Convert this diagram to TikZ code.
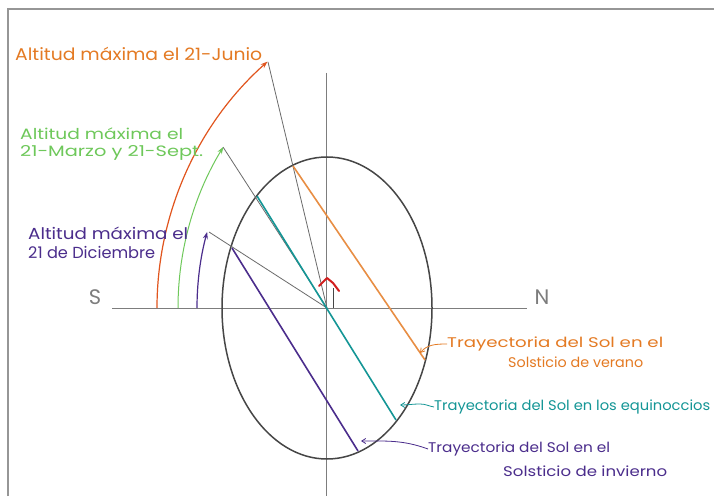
\documentclass[tikz,border=0pt]{standalone}
\usepackage{fontspec}
\setmainfont{Poppins}
\usetikzlibrary{arrows.meta}
\definecolor{orC}{RGB}{228,122,35}
\definecolor{orR}{RGB}{225,85,30}
\definecolor{grC}{RGB}{110,200,90}
\definecolor{tlC}{RGB}{20,150,150}
\definecolor{puC}{RGB}{75,45,140}
\definecolor{lnC}{RGB}{125,125,125}
\definecolor{elC}{RGB}{70,70,70}
\definecolor{rdC}{RGB}{210,30,30}
\definecolor{frC}{RGB}{150,150,150}
\newcommand{\fitw}[2]{\resizebox{#1}{\height}{#2}}
\tikzset{
  lbl/.style={anchor=west,inner sep=0pt},
  axis/.style={draw=lnC,line width=0.9pt},
  ray/.style={draw=elC!80,line width=0.8pt},
  traj/.style={line width=1.6pt},
  alt/.style={line width=1.2pt,-{Stealth[length=7pt,width=5pt]}},
  pointer/.style={line width=0.8pt,-{Straight Barb[length=4pt,width=5pt]}}
}
\begin{document}
\begin{tikzpicture}[x=1pt,y=1pt]
\useasboundingbox (0,0) rectangle (714,496);
\fill[white] (0,0) rectangle (714,496);
% frame
\draw[frC,line width=2pt] (8,0) -- (8,487) -- (714,487);

% axes
\coordinate (O) at (327,188);
\coordinate (hl) at (112,188);
\coordinate (hr) at (527,188);
\coordinate (vt) at (326,423);
\coordinate (vb) at (326,0);
\draw[axis] (hl) -- (hr);
\draw[axis] (vt) -- (vb);
\node[text=lnC,font=\fontsize{21}{21}\selectfont] (S) at (95,199) {S};
\node[text=lnC,font=\fontsize{21}{21}\selectfont] (N) at (542,199) {N};

% ellipse
\draw[elC,line width=1.5pt] (O) ellipse[x radius=105, y radius=151];

% points on the ellipse and arrow tips
\coordinate (oa) at (293,330);
\coordinate (ob) at (425,136);
\coordinate (ta) at (257,300);
\coordinate (tb) at (396,76);
\coordinate (pa) at (232,248);
\coordinate (pb) at (358,45);
\coordinate (otip) at (268,434);
\coordinate (gtip) at (223,349);
\coordinate (ptip) at (209,264);

% rays
\draw[ray] (O) -- (otip);
\draw[ray] (O) -- (gtip);
\draw[ray] (O) -- (ptip);

% trajectories
\draw[traj,orC!85] (oa) -- (ob);
\draw[traj,tlC] (ta) -- (tb);
\draw[traj,puC] (pa) -- (pb);

% altitude arcs (centre 487,188)
\coordinate (oarc) at (157,188);
\coordinate (garc) at (178,188);
\coordinate (parc) at (197,188);
\draw[alt,orR] (oarc) arc[start angle=180,end angle=131.7,radius=330];
\draw[alt,grC,line width=1pt] (garc) arc[start angle=180,end angle=148.6,radius=309];
\draw[alt,puC] (parc) arc[start angle=180,end angle=164.8,radius=290];

% small north arrow
\coordinate (st0) at (333,188);
\coordinate (st1) at (333,208);
\draw[elC,line width=1pt] (st0) -- (st1);
\draw[rdC,line width=2pt,line join=round,line cap=round] (319,210) -- (327,218) -- (333,213) -- (339,205);

% left labels
\node[lbl,text=orC,font=\fontsize{17}{17}\selectfont] (L1) at (15,442) {\fitw{247pt}{Altitud máxima el 21-Junio}};
\node[lbl,text=grC,font=\fontsize{15}{15}\selectfont] (L2a) at (20,362) {\fitw{163pt}{Altitud máxima el}};
\node[lbl,text=grC,font=\fontsize{15}{15}\selectfont] (L2b) at (20,343) {\fitw{183pt}{21-Marzo y 21-Sept.}};
\node[lbl,text=puC,font=\fontsize{16}{16}\selectfont] (L3a) at (28,263) {\fitw{160pt}{Altitud máxima el}};
\node[lbl,text=puC,font=\fontsize{16}{16}\selectfont] (L3b) at (28,244) {\fitw{127pt}{21 de Diciembre}};

% right labels
\node[lbl,text=orC,font=\fontsize{14}{14}\selectfont] (R1a) at (447,152) {\fitw{216pt}{Trayectoria del Sol en el}};
\node[lbl,text=orC,font=\fontsize{14}{14}\selectfont] (R1b) at (508,134) {\fitw{135pt}{Solsticio de verano}};
\node[lbl,text=tlC,font=\fontsize{14}{14}\selectfont] (R2) at (434,89) {\fitw{276pt}{Trayectoria del Sol en los equinoccios}};
\node[lbl,text=puC,font=\fontsize{14}{14}\selectfont] (R3a) at (428,47) {\fitw{182pt}{Trayectoria del Sol en el}};
\node[lbl,text=puC,font=\fontsize{14}{14}\selectfont] (R3b) at (503,25) {\fitw{164pt}{Solsticio de invierno}};

% pointers
\coordinate (opt) at (420,143);
\coordinate (tpt) at (400,91);
\coordinate (ppt) at (361,55);
\draw[pointer,orC] (R1a.west) to[out=180,in=50] (opt);
\draw[pointer,tlC] (R2.west) to[out=170,in=0] ++(-14,3) to[out=180,in=0] (tpt);
\draw[pointer,puC] (R3a.west) to[out=160,in=0] (ppt);
\end{tikzpicture}
\end{document}
